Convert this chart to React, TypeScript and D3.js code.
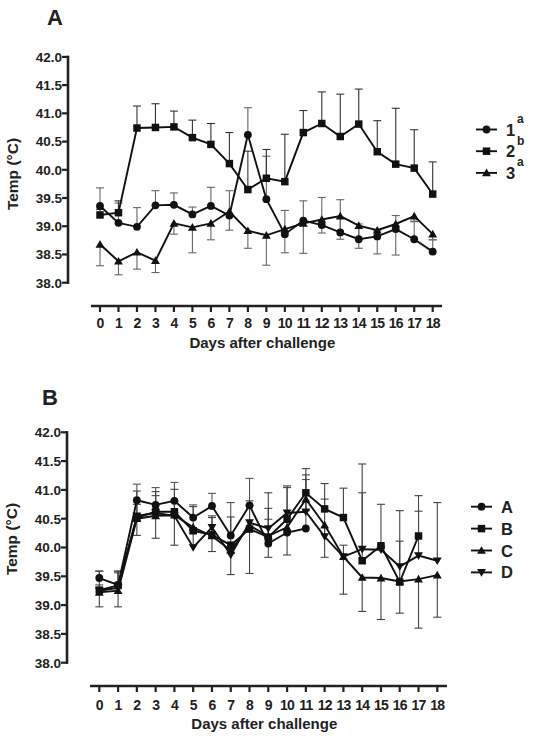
import React from 'react';
import * as d3 from 'd3';

const days = [0, 1, 2, 3, 4, 5, 6, 7, 8, 9, 10, 11, 12, 13, 14, 15, 16, 17, 18];
const yTicks = [38.0, 38.5, 39.0, 39.5, 40.0, 40.5, 41.0, 41.5, 42.0];
const yTitle = 'Temp (°C)';
const xTitle = 'Days after challenge';

// Panel A
const a1 = [39.36, 39.06, 38.99, 39.37, 39.38, 39.21, 39.36, 39.19, 40.62, 39.48, 38.86, 39.10, 39.02, 38.89, 38.77, 38.82, 38.95, 38.77, 38.55];
const a1Err = [0.32, 0.35, 0.34, 0.26, 0.21, 0.13, 0.33, 0.44, 0.48, 0.76, 0.42, 0.35, 0.49, 0.58, 0.27, 0.10, 0.24, 0.31, 0.21];
const a2 = [39.20, 39.24, 40.74, 40.75, 40.76, 40.57, 40.45, 40.11, 39.65, 39.85, 39.79, 40.66, 40.82, 40.59, 40.81, 40.32, 40.10, 40.03, 39.57];
const a2Err = [0.10, 0.21, 0.39, 0.42, 0.28, 0.31, 0.37, 0.55, 0.68, 0.51, 0.84, 0.39, 0.56, 0.75, 0.62, 0.55, 0.99, 0.68, 0.57];
const a3 = [38.68, 38.38, 38.54, 38.39, 39.05, 38.98, 39.05, 39.26, 38.92, 38.84, 38.95, 39.05, 39.12, 39.18, 39.01, 38.93, 39.04, 39.18, 38.86];
const a3Err = [0.38, 0.24, 0.30, 0.21, 0.19, 0.45, 0.29, 0.33, 0.31, 0.53, 0.42, 0.53, 0.24, 0.41, 0.40, 0.42, 0.55, 0.09, 0.10];
const aNames = ['1', '2', '3'];
const aSups = ['a', 'b', 'a'];

// Panel B
const bA = [39.47, 39.35, 40.82, 40.74, 40.81, 40.52, 40.72, 40.21, 40.73, 40.07, 40.26, 40.33];
const bAErr = [0.12, 0.24, 0.28, 0.30, 0.32, 0.22, 0.22, 0.57, 0.47, 0.42, 0.30, 0.85];
const bB = [39.26, 39.34, 40.52, 40.62, 40.62, 40.29, 40.22, 40.04, 40.32, 40.18, 40.49, 40.95, 40.67, 40.52, 39.77, 40.03, 39.40, 40.20];
const bBErr = [0.33, 0.22, 0.46, 0.35, 0.39, 0.42, 0.30, 0.49, 0.49, 0.50, 0.55, 0.42, 0.44, 0.51, 1.68, 0.72, 0.71, 0.70];
const bC = [39.22, 39.25, 40.50, 40.55, 40.56, 40.35, 40.20, 39.95, 40.38, 40.20, 40.35, 40.84, 40.39, 39.84, 39.48, 39.47, 39.41, 39.45, 39.52];
const bCErr = [0.25, 0.28, 0.29, 0.39, 0.52, 0.10, 0.27, 0.42, 0.83, 0.37, 0.48, 0.20, 0.56, 0.65, 0.59, 0.72, 0.55, 0.85, 0.73];
const bD = [39.25, 39.30, 40.55, 40.60, 40.55, 40.00, 40.35, 39.87, 40.43, 40.33, 40.60, 40.62, 40.19, 39.84, 39.97, 39.96, 39.67, 39.86, 39.77];
const bDErr = [0.10, 0.29, 0.20, 0.30, 0.25, 0.30, 0.20, 0.20, 0.30, 0.62, 0.47, 0.64, 0.65, 0.20, 0.98, 0.08, 0.97, 0.77, 1.01];
const bNames = ['A', 'B', 'C', 'D'];

type Shape = 'circle' | 'square' | 'up' | 'down';
type Series = { name: string; sup?: string; values: number[]; err: number[]; dir: number; shape: Shape; errColor: string };

const FONT = '"Liberation Sans", Arial, Helvetica, sans-serif';

function Marker({ shape, x, y, scale = 1 }: { shape: Shape; x: number; y: number; scale?: number }) {
  let type: any = d3.symbolCircle;
  let size = 48;
  if (shape === 'square') { type = d3.symbolSquare; size = 56; }
  if (shape === 'up' || shape === 'down') { type = d3.symbolTriangle; size = 34; }
  const d = d3.symbol().type(type).size(size * scale)() || '';
  const rot = shape === 'down' ? 180 : 0;
  const dy = shape === 'up' ? 0.8 : shape === 'down' ? -0.8 : 0;
  return <path d={d} transform={`translate(${x},${y + dy}) rotate(${rot})`} fill="#111" />;
}

type Cfg = {
  label: string; labelX: number; labelY: number;
  x0: number; x18: number; yTop: number; yBot: number;
  yAxisX: number; xAxisY: number; xAxisFrom: number; xAxisTo: number;
  yTitleY: number; tickLabelY: number; xTitleY: number;
  legX: number; legY0: number; legDy: number;
};

function Panel({ cfg, series }: { cfg: Cfg; series: Series[] }) {
  const x = d3.scaleLinear().domain([0, 18]).range([cfg.x0, cfg.x18]);
  const y = d3.scaleLinear().domain([38, 42]).range([cfg.yBot, cfg.yTop]);
  const line = d3.line<number>().x((_, i) => x(days[i])).y(v => y(v));
  return (
    <g fontFamily={FONT} fontWeight="bold" fill="#222">
      <text x={cfg.labelX} y={cfg.labelY} fontSize={22}>{cfg.label}</text>
      {/* y axis */}
      <line x1={cfg.yAxisX} x2={cfg.yAxisX} y1={y(38) + 1.2} y2={y(42) - 1.2} stroke="#222" strokeWidth={2.6} />
      {yTicks.map(t => (
        <g key={t}>
          <line x1={cfg.yAxisX - 6} x2={cfg.yAxisX} y1={y(t)} y2={y(t)} stroke="#222" strokeWidth={2.2} />
          <text x={cfg.yAxisX - 6} y={y(t) + 4.8} fontSize={13.5} textAnchor="end">{t.toFixed(1)}</text>
        </g>
      ))}
      <text transform={`translate(${cfg.yAxisX - 50},${cfg.yTitleY}) rotate(-90)`} fontSize={15.5} textAnchor="middle">{yTitle}</text>
      {/* x axis */}
      <line x1={cfg.xAxisFrom} x2={cfg.xAxisTo} y1={cfg.xAxisY} y2={cfg.xAxisY} stroke="#222" strokeWidth={2.6} />
      {days.map(dd => (
        <g key={dd}>
          <line x1={x(dd)} x2={x(dd)} y1={cfg.xAxisY} y2={cfg.xAxisY + 6} stroke="#222" strokeWidth={2.2} />
          <text x={x(dd)} y={cfg.tickLabelY} fontSize={14} textAnchor="middle" letterSpacing={-0.8}>{dd}</text>
        </g>
      ))}
      <text x={(cfg.x0 + cfg.x18) / 2 - 4} y={cfg.xTitleY} fontSize={15} textAnchor="middle">{xTitle}</text>
      {/* error bars */}
      {series.map((s, si) => (
        <g key={'e' + si} stroke={s.errColor} strokeWidth={1.1}>
          {s.values.map((v, i) => {
            const ye = y(v + s.dir * s.err[i]);
            return (
              <g key={i}>
                <line x1={x(days[i])} x2={x(days[i])} y1={y(v)} y2={ye} />
                <line x1={x(days[i]) - 4} x2={x(days[i]) + 4} y1={ye} y2={ye} />
              </g>
            );
          })}
        </g>
      ))}
      {/* lines */}
      {series.map((s, si) => (
        <path key={'l' + si} d={line(s.values) || ''} fill="none" stroke="#111" strokeWidth={1.9} />
      ))}
      {/* markers */}
      {series.map((s, si) => (
        <g key={'m' + si}>
          {s.values.map((v, i) => <Marker key={i} shape={s.shape} x={x(days[i])} y={y(v)} />)}
        </g>
      ))}
      {/* legend */}
      {series.map((s, si) => {
        const ly = cfg.legY0 + si * cfg.legDy;
        return (
          <g key={'g' + si}>
            <line x1={cfg.legX} x2={cfg.legX + 21} y1={ly} y2={ly} stroke="#111" strokeWidth={1.9} />
            <Marker shape={s.shape} x={cfg.legX + 10.5} y={ly} />
            <text x={cfg.legX + 30} y={ly + 6} fontSize={16.5}>{s.name}</text>
            {s.sup ? <text x={cfg.legX + 41} y={ly - 6.5} fontSize={12}>{s.sup}</text> : null}
          </g>
        );
      })}
    </g>
  );
}

const cfgA: Cfg = {
  label: 'A', labelX: 47, labelY: 25,
  x0: 100, x18: 432.7, yTop: 56.9, yBot: 282.7,
  yAxisX: 68, xAxisY: 306, xAxisFrom: 91, xAxisTo: 442,
  yTitleY: 174, tickLabelY: 328, xTitleY: 348,
  legX: 476, legY0: 129.5, legDy: 21.7,
};
const cfgB: Cfg = {
  label: 'B', labelX: 42, labelY: 405,
  x0: 99.3, x18: 437.3, yTop: 432.3, yBot: 662.7,
  yAxisX: 67, xAxisY: 686, xAxisFrom: 90, xAxisTo: 447,
  yTitleY: 539, tickLabelY: 710, xTitleY: 729,
  legX: 471, legY0: 506.7, legDy: 21.9,
};

export default function App() {
  const seriesA: Series[] = [
    { name: aNames[0], sup: aSups[0], values: a1, err: a1Err, dir: 1, shape: 'circle', errColor: '#666' },
    { name: aNames[1], sup: aSups[1], values: a2, err: a2Err, dir: 1, shape: 'square', errColor: '#333' },
    { name: aNames[2], sup: aSups[2], values: a3, err: a3Err, dir: -1, shape: 'up', errColor: '#666' },
  ];
  const seriesB: Series[] = [
    { name: bNames[0], values: bA, err: bAErr, dir: 1, shape: 'circle', errColor: '#555' },
    { name: bNames[1], values: bB, err: bBErr, dir: 1, shape: 'square', errColor: '#444' },
    { name: bNames[2], values: bC, err: bCErr, dir: -1, shape: 'up', errColor: '#444' },
    { name: bNames[3], values: bD, err: bDErr, dir: 1, shape: 'down', errColor: '#444' },
  ];
  return (
    <svg width={533} height={741} style={{ position: 'absolute', left: 0, top: 0, background: '#fff' }}>
      <rect width={533} height={741} fill="#fff" />
      <Panel cfg={cfgA} series={seriesA} />
      <Panel cfg={cfgB} series={seriesB} />
    </svg>
  );
}
